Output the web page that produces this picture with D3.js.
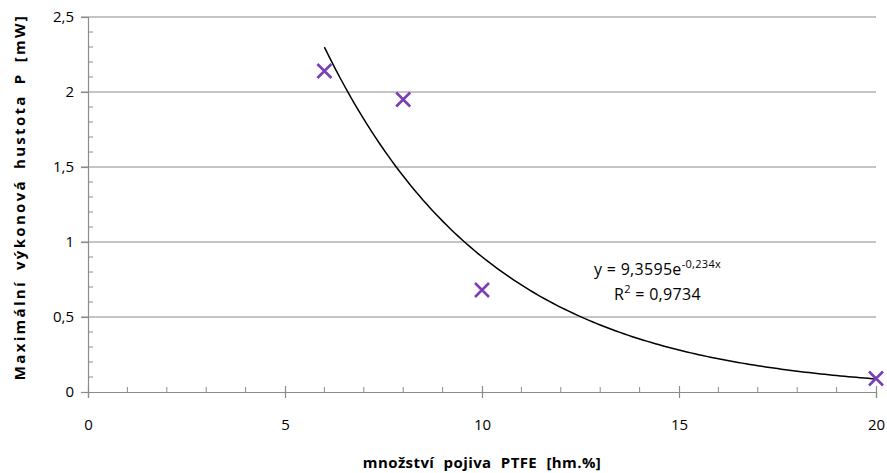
<!DOCTYPE html>
<html>
<head>
<meta charset="utf-8">
<script src="https://cdn.jsdelivr.net/npm/d3@7"></script>
<style>
  body { margin: 0; background: #fff; }
  text { font-family: "Open Sans", sans-serif; fill: #000; }
</style>
</head>
<body>
<script>
// Data
const ptfe = [6, 8, 10, 20];
const power = [2.14, 1.95, 0.68, 0.09];
const xTicks = [0, 5, 10, 15, 20];
const yTicks = [0, 0.5, 1, 1.5, 2, 2.5];
const yTickLabels = ["0", "0,5", "1", "1,5", "2", "2,5"];
// Exponential trendline coefficients shown on the chart
const fitA = [9.3595];
const fitB = [-0.234];
const fitRange = [6, 20];

const WIDTH = 887;
const HEIGHT = 473;
const margin = { left: 88, right: 11, top: 17, bottom: 81 };

const svg = d3.select('body')
    .append('svg')
    .attr('width', WIDTH)
    .attr('height', HEIGHT);

const x = d3.scaleLinear().domain([0, 20]).range([margin.left, WIDTH - margin.right]);
const y = d3.scaleLinear().domain([0, 2.5]).range([HEIGHT - margin.bottom, margin.top]);

// Horizontal gridlines
svg.append('g')
    .selectAll('line')
    .data(yTicks.filter(d => d > 0))
    .join('line')
    .attr('x1', x(0) - 7)
    .attr('x2', x(20))
    .attr('y1', d => y(d))
    .attr('y2', d => y(d))
    .attr('stroke', '#8c8c8c')
    .attr('stroke-width', 1.2);

// Y axis
const yAxis = svg.append('g')
    .attr('transform', `translate(${x(0)},0)`)
    .call(d3.axisLeft(y).tickValues(yTicks).tickSize(7).tickFormat((d, i) => yTickLabels[i]));
yAxis.select('.domain').attr('stroke', '#8c8c8c').attr('stroke-width', 1.2);
yAxis.selectAll('.tick line').attr('stroke', '#8c8c8c').attr('stroke-width', 1.2);
yAxis.selectAll('.tick text')
    .attr('x', -14)
    .style('font-family', '"Open Sans", sans-serif')
    .style('font-size', '15px')
    .attr('fill', '#000');

// Y minor ticks
svg.append('g')
    .selectAll('line')
    .data(d3.range(0, 26).map(d => d / 10).filter(d => Math.round(d * 10) % 5 !== 0))
    .join('line')
    .attr('x1', x(0))
    .attr('x2', x(0) + 5)
    .attr('y1', d => y(d))
    .attr('y2', d => y(d))
    .attr('stroke', '#8c8c8c');

// X axis
const xAxis = svg.append('g')
    .attr('transform', `translate(0,${y(0)})`)
    .call(d3.axisBottom(x).tickValues(xTicks).tickSize(6).tickFormat(d3.format('d')));
xAxis.select('.domain').attr('stroke', '#8c8c8c').attr('stroke-width', 1.2);
xAxis.selectAll('.tick line').attr('stroke', '#8c8c8c').attr('stroke-width', 1.2).attr('y1', -6);
xAxis.selectAll('.tick text')
    .attr('y', 27)
    .style('font-family', '"Open Sans", sans-serif')
    .style('font-size', '15px')
    .attr('fill', '#000');

// X minor ticks
svg.append('g')
    .selectAll('line')
    .data(d3.range(1, 20).filter(d => d % 5 !== 0))
    .join('line')
    .attr('x1', d => x(d))
    .attr('x2', d => x(d))
    .attr('y1', y(0) - 5)
    .attr('y2', y(0))
    .attr('stroke', '#8c8c8c');

// Trendline
const trend = d3.range(fitRange[0], fitRange[1] + 0.001, 0.1)
    .map(v => [v, fitA[0] * Math.exp(fitB[0] * v)]);
svg.append('path')
    .datum(trend)
    .attr('fill', 'none')
    .attr('stroke', '#000')
    .attr('stroke-width', 1.5)
    .attr('d', d3.line().x(d => x(d[0])).y(d => y(d[1])));

// Markers
const s = 7;
const markers = svg.append('g')
    .selectAll('g')
    .data(ptfe.map((d, i) => [d, power[i]]))
    .join('g')
    .attr('transform', d => `translate(${x(d[0])},${y(d[1])})`);
markers.append('path')
    .attr('d', `M${-s},${-s}L${s},${s}M${-s},${s}L${s},${-s}`)
    .attr('stroke', '#7b3fb5')
    .attr('stroke-width', 2.6)
    .attr('fill', 'none');

// Equation text
const eq = svg.append('text')
    .attr('x', 594)
    .attr('y', 275)
    .style('font-size', '16px')
    .style('letter-spacing', '0.3px');
eq.append('tspan').text('y = 9,3595e');
eq.append('tspan').attr('dy', -7).style('font-size', '11px').text('-0,234x');

const r2 = svg.append('text')
    .attr('x', 614)
    .attr('y', 300)
    .style('font-size', '16px')
    .style('letter-spacing', '0.3px');
r2.append('tspan').text('R');
r2.append('tspan').attr('dy', -7).style('font-size', '11px').text('2');
r2.append('tspan').attr('dy', 7).text(' = 0,9734');

// Axis titles
svg.append('text')
    .attr('x', 482)
    .attr('y', 468)
    .attr('text-anchor', 'middle')
    .style('font-size', '15px')
    .style('font-weight', 'bold')
    .style('word-spacing', '5px')
    .style('letter-spacing', '0.4px')
    .text('množství pojiva PTFE [hm.%]');

svg.append('text')
    .attr('transform', 'translate(25,197) rotate(-90)')
    .attr('text-anchor', 'middle')
    .style('font-size', '15px')
    .style('font-weight', 'bold')
    .style('word-spacing', '4px')
    .style('letter-spacing', '2.3px')
    .text('Maximální výkonová hustota P [mW]');
</script>
</body>
</html>
